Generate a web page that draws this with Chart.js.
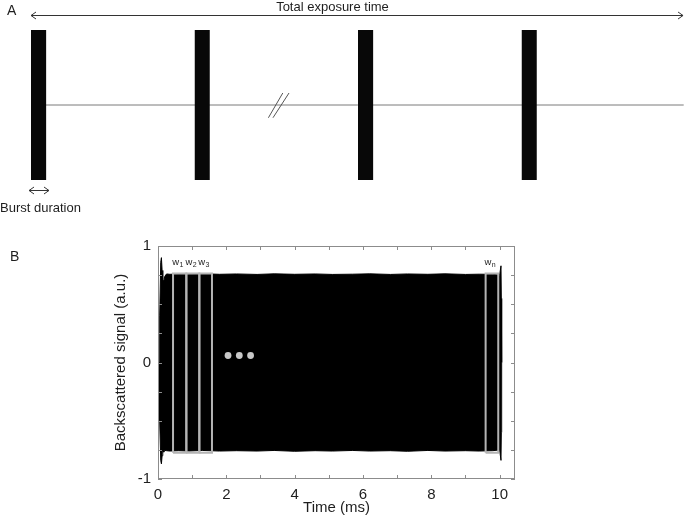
<!DOCTYPE html>
<html><head><meta charset="utf-8">
<script src="https://cdn.jsdelivr.net/npm/chart.js@4.4.1/dist/chart.umd.min.js"></script>
<style>
html,body{margin:0;padding:0;background:#fff;width:685px;height:517px;overflow:hidden;}
#ca{position:absolute;left:0;top:0;}
#cb{position:absolute;left:0;top:230px;}
</style></head><body>
<canvas id="ca" width="685" height="230"></canvas>
<canvas id="cb" width="685" height="287"></canvas>
<script>
// ---------- Panel A data (arbitrary time units) ----------
const burstStarts = [0, 25, 50, 75];
const burstDuration = 2.35;
const carrierX = [0, 99.8];
const breakMark1X = [36.3, 38.5];
const breakMark2X = [37.0, 39.45];
const breakMarkY = [-0.17, 0.16];
const exposureArrowX = [0, 99.7];
const exposureArrowY = 1.2;
const burstArrowX = [-0.3, 2.75];
const burstArrowY = -1.133;

// ---------- Panel B data ----------
const sigTime  = [0.03, 0.05, 0.08, 0.10, 0.12, 0.14, 0.17, 0.20, 0.25, 0.35, 0.6, 0.9, 1.3, 1.8, 2.3, 2.9, 3.4, 4.0, 4.6, 5.1, 5.7, 6.2, 6.8, 7.3, 7.9, 8.4, 9.0, 9.4, 9.8, 10.0, 10.04, 10.05, 10.06];
const sigUpper = [0.00, 0.40, 0.86, 0.90, 0.79, 0.71, 0.70, 0.74, 0.76, 0.757, 0.76, 0.757, 0.762, 0.757, 0.76, 0.756, 0.761, 0.757, 0.76, 0.756, 0.758, 0.761, 0.756, 0.76, 0.757, 0.761, 0.756, 0.758, 0.757, 0.75, 0.83, 0.55, 0.00];
const sigLower = [0.00, -0.50, -0.84, -0.87, -0.80, -0.75, -0.77, -0.755, -0.757, -0.76, -0.757, -0.76, -0.755, -0.76, -0.757, -0.76, -0.755, -0.762, -0.757, -0.76, -0.755, -0.76, -0.757, -0.762, -0.755, -0.76, -0.757, -0.76, -0.757, -0.75, -0.84, -0.60, 0.00];
const winStart = [0.44, 0.83, 1.21, 9.59];
const winEnd   = [0.83, 1.21, 1.58, 9.96];
const winTop = 0.765, winBottom = -0.775;
const winLabels = ['1', '2', '3', 'n'];
const winLabelY = 0.84;
const dotsX = [2.05, 2.38, 2.71];
const dotsY = [0.06, 0.06, 0.06];

Chart.defaults.font.family = "'Liberation Sans', Arial, sans-serif";
Chart.defaults.color = '#1e1e1e';
Chart.defaults.animation = false;

// ---------- Panel A chart ----------
const dsA = [];
burstStarts.forEach(s => dsA.push({
  data: [{x: s, y: 1}, {x: s + burstDuration, y: 1}],
  borderWidth: 0, pointRadius: 0, backgroundColor: '#080808', fill: {value: -1}, order: 0
}));
dsA.push({data: carrierX.map(x => ({x, y: 0})), borderColor: '#7a7a7a', borderWidth: 1, pointRadius: 0, fill: false, order: 5});
dsA.push({data: breakMark1X.map((x, i) => ({x, y: breakMarkY[i]})), borderColor: '#555', borderWidth: 1, pointRadius: 0, fill: false, order: 1});
dsA.push({data: breakMark2X.map((x, i) => ({x, y: breakMarkY[i]})), borderColor: '#555', borderWidth: 1, pointRadius: 0, fill: false, order: 1});

function arrowHead(ctx, x, y, dir) {
  ctx.beginPath();
  ctx.moveTo(x - dir * 5, y - 3.5);
  ctx.lineTo(x, y);
  ctx.lineTo(x - dir * 5, y + 3.5);
  ctx.stroke();
}
function hLine(ctx, x1, x2, y) {
  ctx.beginPath(); ctx.moveTo(x1, y); ctx.lineTo(x2, y); ctx.stroke();
}

const annotA = {
  id: 'annotA',
  afterDraw(chart) {
    const ctx = chart.ctx, xs = chart.scales.x, ys = chart.scales.y;
    ctx.save();
    ctx.strokeStyle = '#333'; ctx.lineWidth = 1;
    const ey = Math.round(ys.getPixelForValue(exposureArrowY)) + 0.5;
    const ex1 = xs.getPixelForValue(exposureArrowX[0]), ex2 = xs.getPixelForValue(exposureArrowX[1]);
    hLine(ctx, ex1, ex2, ey); arrowHead(ctx, ex1, ey, -1); arrowHead(ctx, ex2, ey, 1);
    const by = Math.round(ys.getPixelForValue(burstArrowY)) + 0.5;
    const bx1 = xs.getPixelForValue(burstArrowX[0]), bx2 = xs.getPixelForValue(burstArrowX[1]);
    hLine(ctx, bx1, bx2, by); arrowHead(ctx, bx1, by, -1); arrowHead(ctx, bx2, by, 1);
    ctx.fillStyle = '#1e1e1e';
    ctx.font = "13px 'Liberation Sans', Arial, sans-serif";
    ctx.textBaseline = 'alphabetic';
    ctx.textAlign = 'center';
    ctx.fillText('Total exposure time', xs.getPixelForValue(46.1), ey - 4.5);
    ctx.textAlign = 'left';
    ctx.fillText('Burst duration', 0, by + 21);
    ctx.font = "14px 'Liberation Sans', Arial, sans-serif";
    ctx.fillText('A', 7, 15);
    ctx.restore();
  }
};

new Chart(document.getElementById('ca'), {
  type: 'line',
  data: {datasets: dsA},
  options: {
    responsive: false, events: [],
    layout: {padding: {left: 31, right: 0, top: 30, bottom: 50}},
    plugins: {legend: {display: false}, tooltip: {enabled: false}},
    scales: {
      x: {type: 'linear', min: 0, max: 100, display: false},
      y: {type: 'linear', min: -1, max: 1, display: false}
    }
  },
  plugins: [annotA]
});

// ---------- Panel B chart ----------
const boxColor = '#8c8c8c';
const dsB = [];
dsB.push({data: sigTime.map((t, i) => ({x: t, y: sigUpper[i]})), borderColor: '#000', backgroundColor: '#000', borderWidth: 1, pointRadius: 0, tension: 0, fill: '+1', order: 3});
dsB.push({data: sigTime.map((t, i) => ({x: t, y: sigLower[i]})), borderColor: '#000', backgroundColor: '#000', borderWidth: 1, pointRadius: 0, tension: 0, fill: false, order: 3});
winStart.forEach((s, i) => dsB.push({
  data: [{x: s, y: winBottom}, {x: s, y: winTop}, {x: winEnd[i], y: winTop}, {x: winEnd[i], y: winBottom}, {x: s, y: winBottom}],
  borderColor: '#b4b4b4', borderWidth: 2, pointRadius: 0, tension: 0, fill: false, order: 1
}));
dsB.push({data: dotsX.map((x, i) => ({x, y: dotsY[i]})), showLine: false, pointRadius: 3.4, pointBackgroundColor: '#c8c8c8', pointBorderWidth: 0, order: 0});

const annotB = {
  id: 'annotB',
  afterDatasetsDraw(chart) {
    const ctx = chart.ctx, xs = chart.scales.x, ys = chart.scales.y, a = chart.chartArea;
    ctx.save();
    ctx.strokeStyle = boxColor; ctx.lineWidth = 1;
    ctx.strokeRect(Math.round(a.left) + 0.5, Math.round(a.top) + 0.5, Math.round(a.right - a.left) - 1, Math.round(a.bottom - a.top) - 1);
    ctx.beginPath();
    xs.ticks.filter(t => Number.isInteger(t.value)).forEach(t => {
      const px = Math.round(xs.getPixelForValue(t.value)) + 0.5;
      ctx.moveTo(px, a.bottom); ctx.lineTo(px, a.bottom - 4);
      ctx.moveTo(px, a.top); ctx.lineTo(px, a.top + 4);
    });
    ys.ticks.forEach(t => {
      const py = Math.round(ys.getPixelForValue(t.value)) + 0.5;
      ctx.moveTo(a.left, py); ctx.lineTo(a.left + 4, py);
      ctx.moveTo(a.right, py); ctx.lineTo(a.right - 4, py);
    });
    ctx.stroke();
    // window labels
    ctx.fillStyle = '#1e1e1e';
    ctx.textBaseline = 'alphabetic';
    ctx.textAlign = 'left';
    winStart.forEach((s, i) => {
      const cx = xs.getPixelForValue((s + winEnd[i]) / 2) - 2;
      const by = ys.getPixelForValue(winLabelY);
      ctx.font = "9.5px 'Liberation Sans', Arial, sans-serif";
      const ww = ctx.measureText('w').width;
      ctx.font = "7px 'Liberation Sans', Arial, sans-serif";
      const sw = ctx.measureText(winLabels[i]).width;
      const x0 = cx - (ww + sw) / 2;
      ctx.font = "9.5px 'Liberation Sans', Arial, sans-serif";
      ctx.fillText('w', x0, by);
      ctx.font = "7px 'Liberation Sans', Arial, sans-serif";
      ctx.fillText(winLabels[i], x0 + ww + 0.3, by + 2.5);
    });
    ctx.font = "14px 'Liberation Sans', Arial, sans-serif";
    ctx.fillText('B', 10, 30.5);
    ctx.restore();
  }
};

new Chart(document.getElementById('cb'), {
  type: 'line',
  data: {datasets: dsB},
  options: {
    responsive: false, events: [],
    layout: {padding: {left: 100, right: 170, top: 11, bottom: 0}},
    plugins: {legend: {display: false}, tooltip: {enabled: false}},
    scales: {
      x: {
        type: 'linear', min: 0, max: 10.45,
        grid: {display: false, drawTicks: false}, border: {display: false},
        ticks: {stepSize: 1, autoSkip: false, includeBounds: false, maxRotation: 0, padding: 7, font: {size: 15},
          callback: v => (Number.isInteger(v) && v % 2 === 0) ? String(v) : ''},
        title: {display: true, text: 'Time (ms)', font: {size: 15}, padding: {top: 0, bottom: 0}},
        afterFit: s => { s.height = 38; }
      },
      y: {
        type: 'linear', min: -1, max: 1,
        grid: {display: false, drawTicks: false}, border: {display: false},
        ticks: {stepSize: 0.25, autoSkip: false, padding: 7, font: {size: 15},
          callback: v => (v === -1 || v === 0 || v === 1) ? String(v) : ''},
        title: {display: true, text: 'Backscattered signal (a.u.)', font: {size: 15}, padding: {top: 12, bottom: 0}},
        afterFit: s => { s.width = 58; }
      }
    }
  },
  plugins: [annotB]
});
</script>
</body></html>
